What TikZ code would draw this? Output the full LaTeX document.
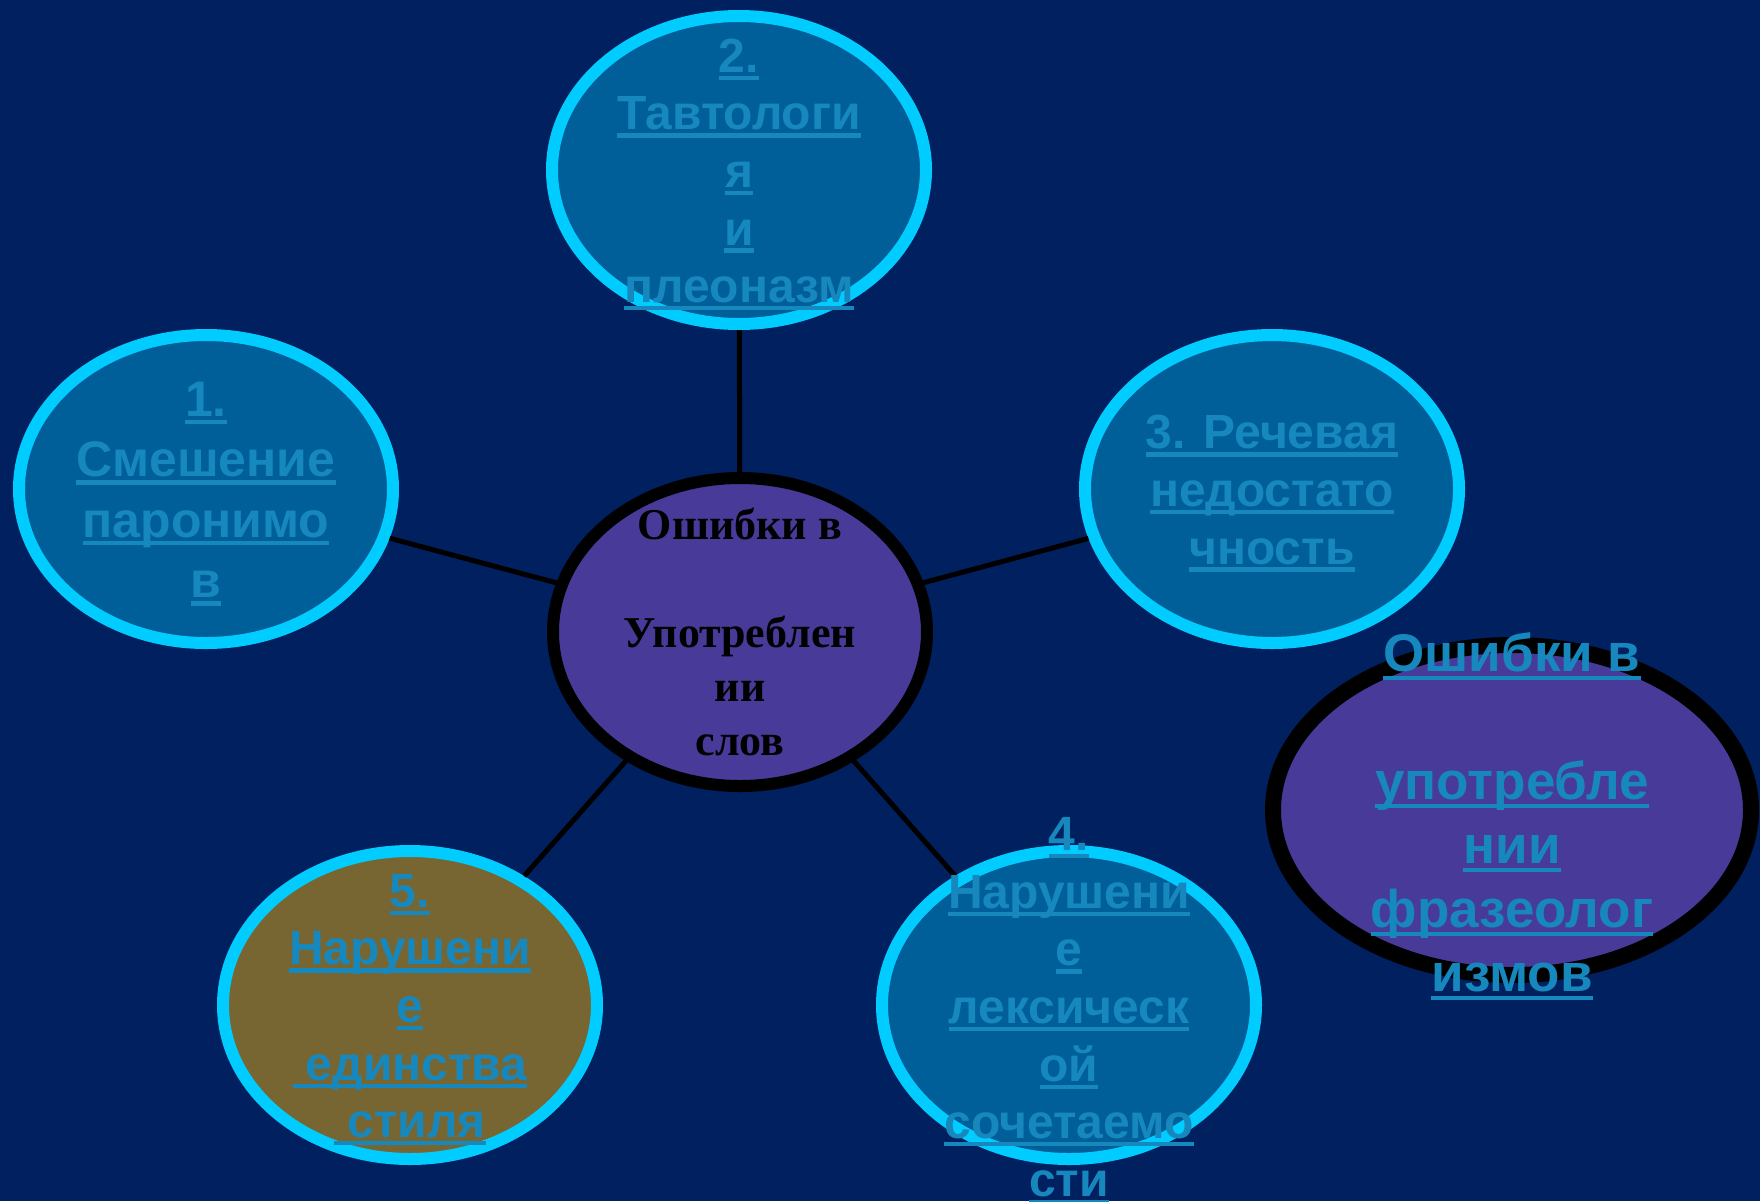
\documentclass[tikz,border=0pt]{standalone}
\usepackage{fontspec}
\setmainfont{Liberation Sans}
\newfontfamily\serifbold{Liberation Serif}
\usetikzlibrary{shapes.geometric}
\definecolor{slidebg}{RGB}{0,32,96}
\definecolor{bubblefill}{RGB}{0,94,153}
\definecolor{bubbleline}{RGB}{0,204,255}
\definecolor{linktext}{RGB}{22,136,190}
\definecolor{hubfill}{RGB}{72,58,152}
\definecolor{olivefill}{RGB}{120,102,50}
\newcommand{\ulnk}[1]{\setbox0\hbox{#1}\rlap{\copy0}\rule[-0.16em]{\wd0}{0.09em}\strut}
\begin{document}
\begin{tikzpicture}[x=0.5pt,y=0.5pt,yscale=-1,xscale=1,
  bubble/.style={ellipse, draw=bubbleline, line width=6pt, fill=bubblefill, minimum width=187pt, minimum height=154pt, inner sep=0pt},
  hub/.style={ellipse, draw=black, line width=6pt, fill=hubfill, minimum width=187pt, minimum height=154pt, inner sep=0pt},
  bubbletext/.style={text=linktext, align=center, inner sep=0pt, font=\bfseries\fontsize{24pt}{28.8pt}\selectfont, yshift=-3pt},
  spoke/.style={draw=black, line width=2.5pt}]
%background
\fill [slidebg] (0,0) rectangle (1760,1201);
\useasboundingbox (0,0) rectangle (1760,1201);

%Shape: Ellipse [hub]
\node [hub] (hub) at (740,632) {};
%Shape: Ellipse [1]
\node [bubble] (n1) at (206,489) {};
%Shape: Ellipse [2]
\node [bubble] (n2) at (739,170) {};
%Shape: Ellipse [3]
\node [bubble] (n3) at (1272,489) {};
%Shape: Ellipse [4]
\node [bubble] (n4) at (1069,1005) {};
%Shape: Ellipse [5]
\node [bubble, fill=olivefill] (n5) at (410,1005) {};
%Shape: Ellipse [phraseology]
\node [hub, line width=8pt, minimum width=239pt, minimum height=165pt] (phr) at (1512,810) {};

%Straight Lines
\draw [spoke] (hub) -- (n1) ;
\draw [spoke] (hub) -- (n2) ;
\draw [spoke] (hub) -- (n3) ;
\draw [spoke] (hub) -- (n4) ;
\draw [spoke] (hub) -- (n5) ;

%Texts
\node [align=center, inner sep=0pt, yshift=-2.5pt, font=\serifbold\bfseries\fontsize{22pt}{27pt}\selectfont] (hubtext) at (hub.center) {\strut Ошибки в\\\strut\\\strut Употреблен\\\strut ии\\\strut слов};
\node [bubbletext, font=\bfseries\fontsize{25pt}{30.2pt}\selectfont] (t1) at (n1.center) {\ulnk{1.}\\\ulnk{Смешение}\\\ulnk{паронимо}\\\ulnk{в}};
\node [bubbletext] (t2) at (n2.center) {\ulnk{2.}\\\ulnk{Тавтологи}\\\ulnk{я}\\\ulnk{и}\\\ulnk{плеоназм}};
\node [bubbletext] (t3) at (n3.center) {\ulnk{3. Речевая}\\\ulnk{недостато}\\\ulnk{чность}};
\node [bubbletext, yshift=-0.5pt] (t4) at (n4.center) {\ulnk{4.}\\\ulnk{Нарушени}\\\ulnk{е}\\\ulnk{лексическ}\\\ulnk{ой}\\\ulnk{сочетаемо}\\\ulnk{сти}};
\node [bubbletext] (t5) at (n5.center) {\ulnk{5.}\\\ulnk{Нарушени}\\\ulnk{е}\\\ulnk{ единства}\\\ulnk{ стиля}};
\node [bubbletext, yshift=-1.5pt, font=\bfseries\fontsize{26.5pt}{32pt}\selectfont] (tphr) at (phr.center) {\ulnk{Ошибки в}\\\strut\\\ulnk{употребле}\\\ulnk{нии}\\\ulnk{фразеолог}\\\ulnk{измов}};

\end{tikzpicture}
\end{document}
